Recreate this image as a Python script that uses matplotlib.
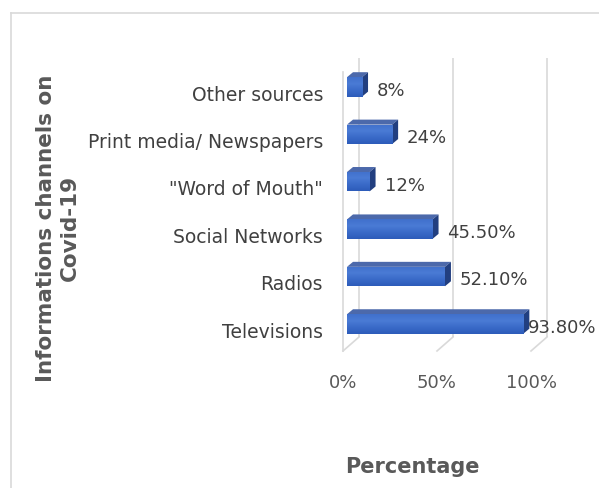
import matplotlib
matplotlib.use("Agg")
import matplotlib.pyplot as plt
import numpy as np
from matplotlib.patches import Polygon, Rectangle
from matplotlib.colors import LinearSegmentedColormap
from matplotlib.lines import Line2D

# data (top of chart first)
categories = ["Other sources", "Print media/ Newspapers", "\"Word of Mouth\"",
              "Social Networks", "Radios", "Televisions"]
values = [8, 24, 12, 45.5, 52.1, 93.8]
value_labels = ["8%", "24%", "12%", "45.50%", "52.10%", "93.80%"]
x_ticks = [0, 50, 100]
x_tick_labels = ["0%", "50%", "100%"]

# pixel scale of the data units
PX_X = 1.88
PX_Y = 47.4

# 3d look (in pixels)
WALL_DX, WALL_DY = 16, 14
BAR_SHIFT = 4
BAR_DX, BAR_DY = 6, 5
BAR_H = 0.41
FLOOR_Y = -0.59
WALL_TOP = 5.60

GRID_COL = "#D9D9D9"
TXT_DARK = "#404040"
TXT_GRAY = "#595959"

fig = plt.figure(figsize=(5.99, 4.89), dpi=100)
ax = fig.add_axes([330 / 599, 1 - 370 / 489, 250 / 599, 320 / 489])

wdx = WALL_DX / PX_X
wdy = WALL_DY / PX_Y
bdx = BAR_DX / PX_X
bdy = BAR_DY / PX_Y
shift = BAR_SHIFT / PX_X

# walls / gridlines
for g in x_ticks:
    ax.plot([g + wdx, g + wdx], [FLOOR_Y + wdy, WALL_TOP], color=GRID_COL, lw=1.2,
            solid_capstyle="butt", zorder=1)
    ax.plot([g, g + wdx], [FLOOR_Y, FLOOR_Y + wdy], color=GRID_COL, lw=1.2, zorder=1)
ax.plot([0, 0], [FLOOR_Y, WALL_TOP - wdy], color=GRID_COL, lw=1.2, zorder=1)

cmap = LinearSegmentedColormap.from_list("bar", ["#2D5CBA", "#3A6AC8", "#4A7BD5", "#4070CC"])
grad = np.linspace(0, 1, 64).reshape(-1, 1)

n = len(categories)
ypos = np.arange(n)[::-1]  # Televisions at bottom
for y, v, lab in zip(ypos, values, value_labels):
    x0 = shift
    x1 = shift + v
    y0 = y - 0.02 - BAR_H / 2
    y1 = y - 0.02 + BAR_H / 2
    # top face
    ax.add_patch(Polygon([(x0, y1), (x1, y1), (x1 + bdx, y1 + bdy), (x0 + bdx, y1 + bdy)],
                         closed=True, facecolor="#4C69AB", edgecolor="none", zorder=3))
    # side face
    ax.add_patch(Polygon([(x1, y0), (x1 + bdx, y0 + bdy), (x1 + bdx, y1 + bdy), (x1, y1)],
                         closed=True, facecolor="#223F80", edgecolor="none", zorder=3))
    # front face with gradient
    front = Rectangle((x0, y0), v, BAR_H, facecolor="#3766C4", edgecolor="none", zorder=3)
    ax.add_patch(front)
    im = ax.imshow(grad, extent=[x0, x1, y0, y1], origin="lower", cmap=cmap,
                   aspect="auto", zorder=4)
    im.set_clip_path(front)
    # value label
    lx = min(x1 + bdx + 9 / PX_X, 98.4)
    ax.text(lx, y - 0.08, lab, ha="left", va="center", fontsize=13, color=TXT_DARK, zorder=5)

ax.set_xlim(-13 / PX_X, 237 / PX_X)
ax.set_ylim(-0.97, 5.78)

ax.set_yticks(ypos - 0.13)
ax.set_yticklabels(categories, fontsize=13.5, color=TXT_DARK)
ax.set_xticks(x_ticks)
ax.set_xticklabels(x_tick_labels, fontsize=13, color=TXT_GRAY)
ax.tick_params(axis="y", length=0, pad=5)
ax.tick_params(axis="x", length=0, pad=3)
for sp in ax.spines.values():
    sp.set_visible(False)
ax.patch.set_alpha(0)

# titles
fig.text(58 / 599, 1 - 228 / 489, "Informations channels on\nCovid-19", rotation=90,
         ha="center", va="center", multialignment="center", fontsize=15.5,
         fontweight="bold", color=TXT_GRAY, linespacing=1.25)
fig.text(412 / 599, 1 - 467 / 489, "Percentage", ha="center", va="center",
         fontsize=15, fontweight="bold", color=TXT_GRAY)

# chart area border (partly cut off)
fig.add_artist(Line2D([11 / 599, 1], [1 - 14 / 489, 1 - 14 / 489], color=GRID_COL, lw=1.2))
fig.add_artist(Line2D([11 / 599, 11 / 599], [0, 1 - 14 / 489], color=GRID_COL, lw=1.2))

fig.savefig("out.png", dpi=100)
